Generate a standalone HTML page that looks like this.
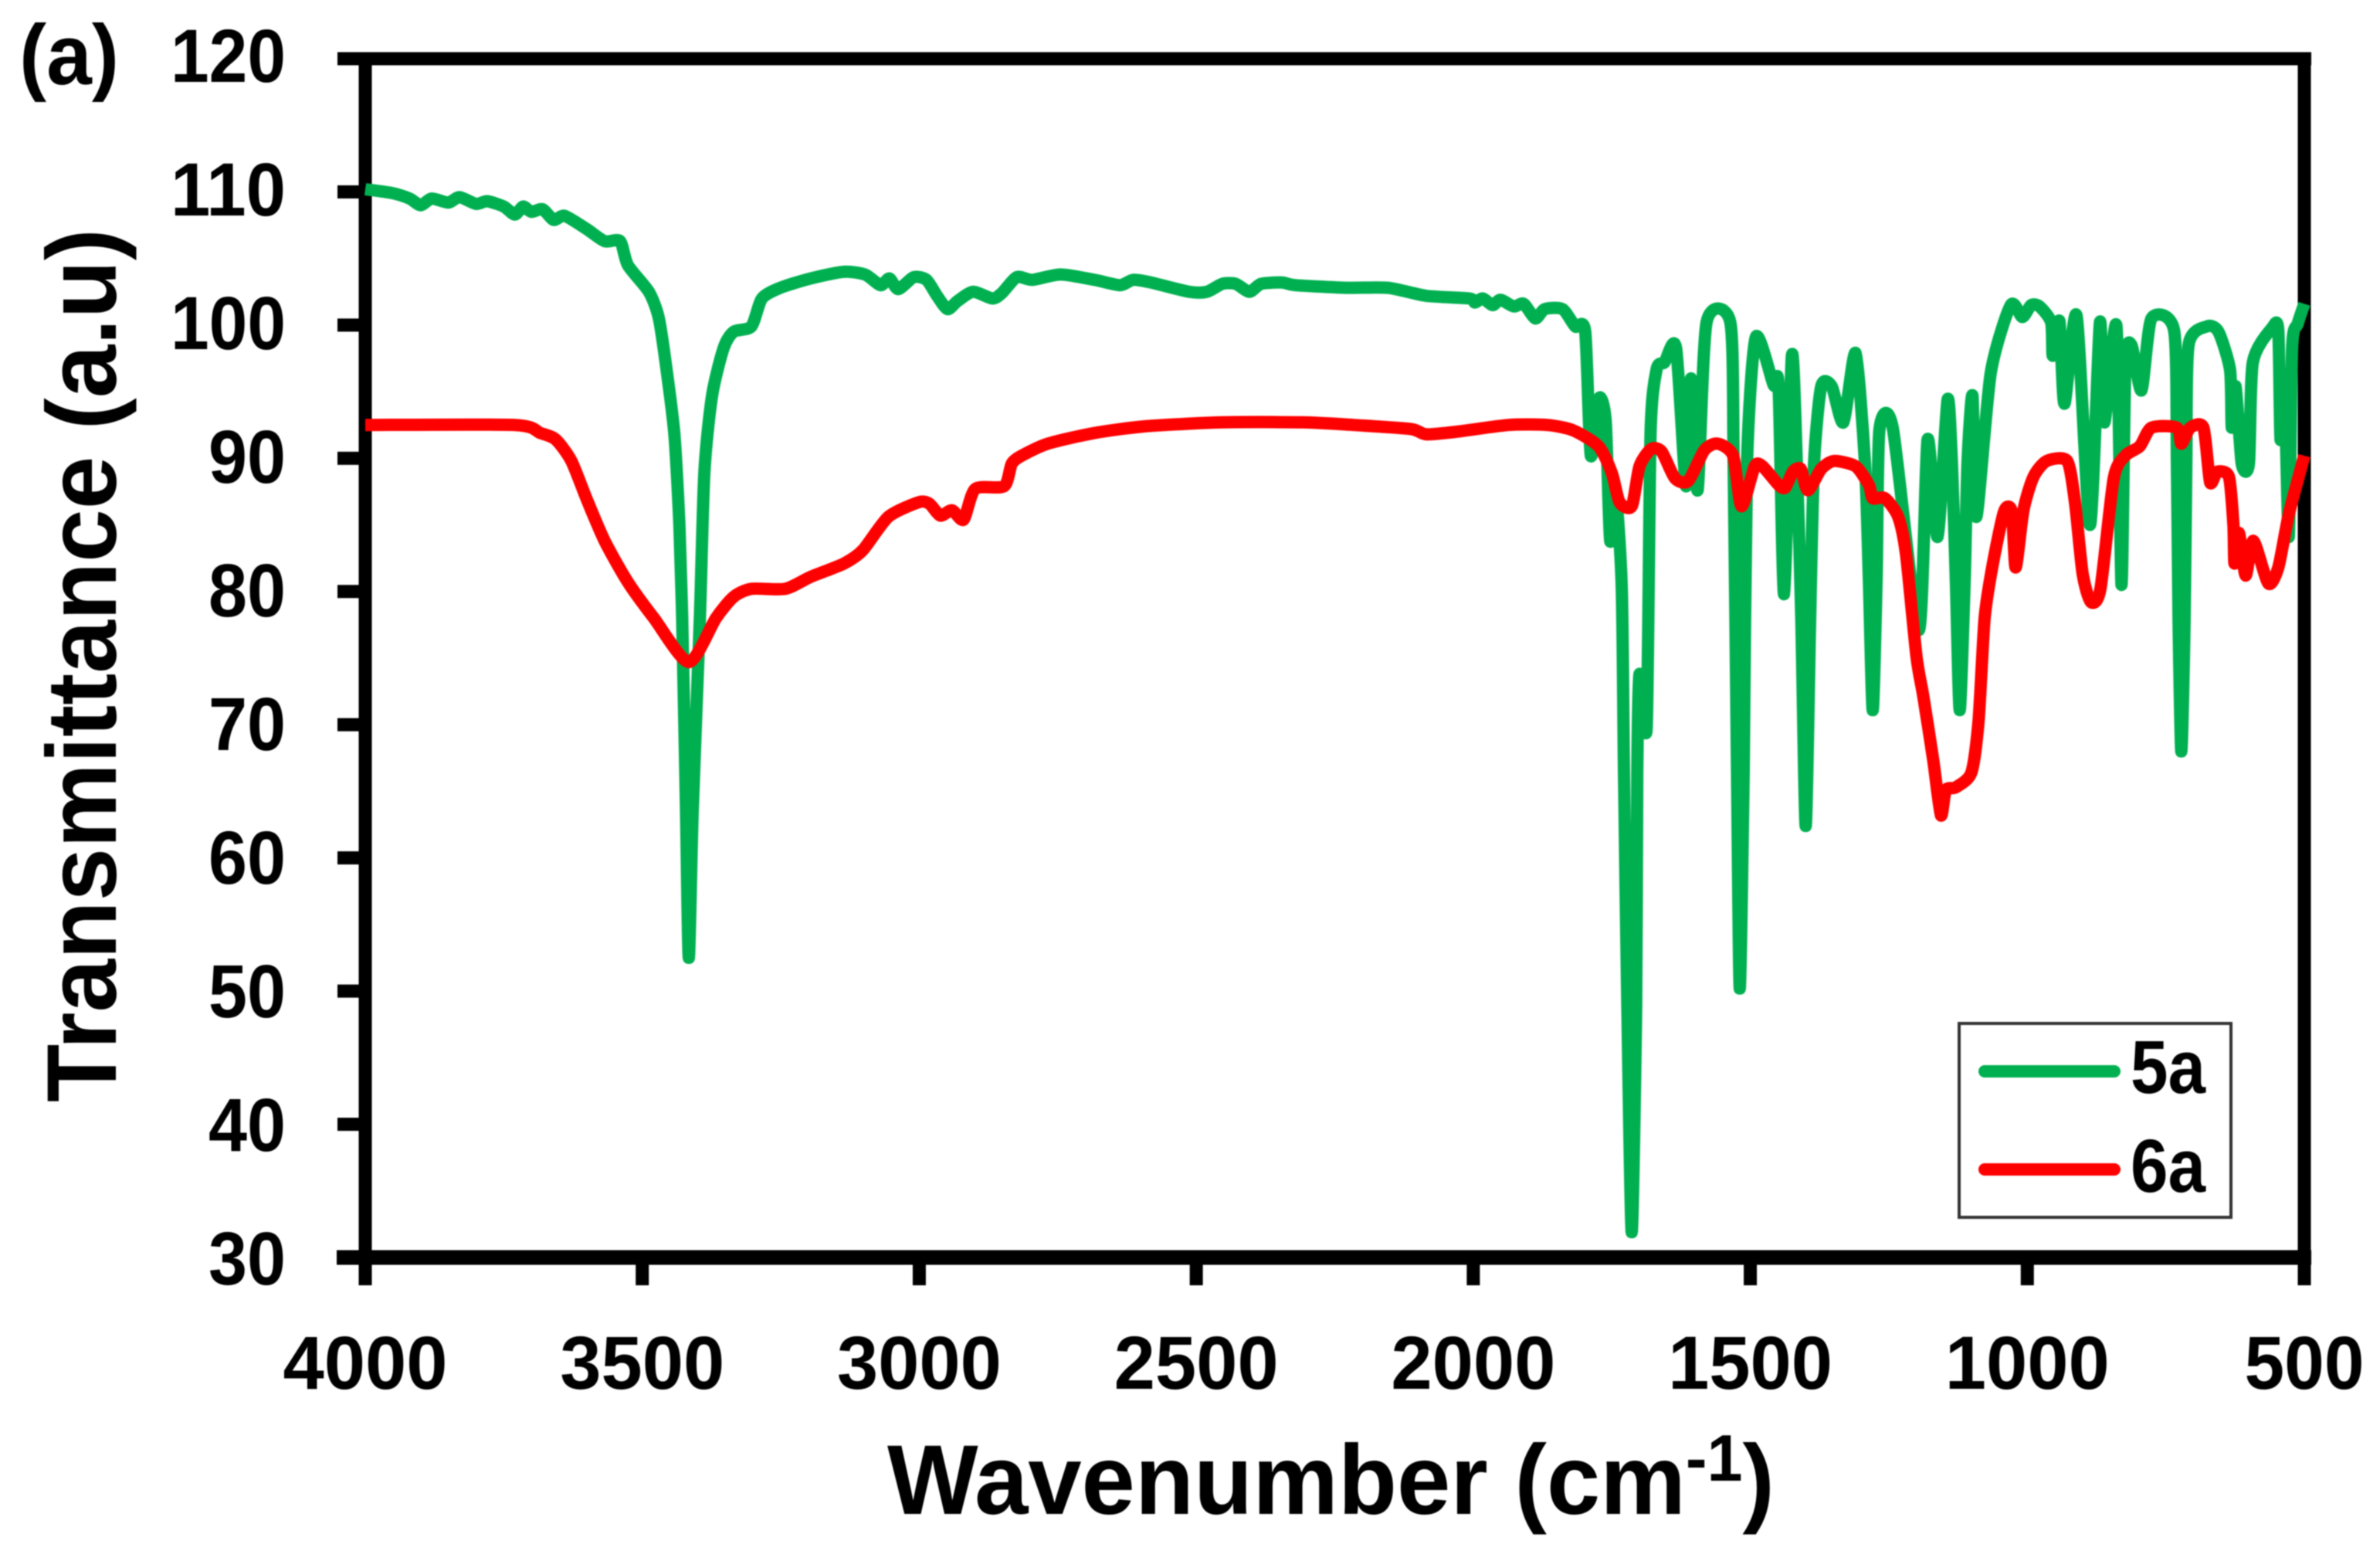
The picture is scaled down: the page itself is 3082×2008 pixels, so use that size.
<!DOCTYPE html>
<html lang="en">
<head>
<meta charset="utf-8">
<title>FTIR spectra of 5a and 6a</title>
<style>
html,body{margin:0;padding:0;background:#fff;}
svg{display:block;filter:blur(0.8px);}
text{font-family:"Liberation Sans",Arial,sans-serif;font-weight:bold;fill:#000;}
</style>
</head>
<body>
<svg id="chart" xmlns="http://www.w3.org/2000/svg" width="3082" height="2008" viewBox="0 0 3082 2008">
  <rect x="0" y="0" width="3082" height="2008" fill="#fff"/>
  <text x="25" y="109" font-size="110" textLength="129" lengthAdjust="spacingAndGlyphs">(a)</text>
  <g id="axes"></g>
  <g id="series"></g>
  <text transform="translate(150,1427) rotate(-90)" x="0" y="0" font-size="128" textLength="1131" lengthAdjust="spacingAndGlyphs">Transmittance (a.u)</text>
  <text x="1149" y="1960" font-size="128" textLength="1149" lengthAdjust="spacingAndGlyphs">Wavenumber (cm<tspan font-size="85" dy="-43">-1</tspan><tspan dy="43">)</tspan></text>
  <g>
    <rect x="2537" y="1325" width="352" height="251" fill="#fff" stroke="#333" stroke-width="4"/>
    <line x1="2570" y1="1387" x2="2738" y2="1387" stroke="#00B050" stroke-width="16" stroke-linecap="round"/>
    <text x="2759" y="1415" font-size="97" textLength="97" lengthAdjust="spacingAndGlyphs">5a</text>
    <line x1="2570" y1="1514" x2="2738" y2="1514" stroke="#FF0000" stroke-width="16" stroke-linecap="round"/>
    <text x="2759" y="1543" font-size="97" textLength="97" lengthAdjust="spacingAndGlyphs">6a</text>
  </g>
</svg>
<script>
const xTickValues = [4000, 3500, 3000, 2500, 2000, 1500, 1000, 500];
const yTickValues = [120, 110, 100, 90, 80, 70, 60, 50, 40, 30];

const wavenumber5a = [4000,3950,3920,3900,3880,3850,3830,3800,3780,3750,3730,3715,3700,3680,3660,3640,3600,3568,3540,3526,3488,3470,3456,3442,3433,3428,3421,3416,3409,3396,3388,3374,3353,3335,3303,3284,3251,3196,3136,3098,3070,3054,3038,3010,2987,2968,2949,2931,2903,2868,2851,2824,2796,2745,2684,2638,2614,2582,2513,2481,2453,2429,2404,2383,2345,2322,2230,2154,2085,2007,1997,1983,1965,1951,1927,1909,1888,1871,1839,1816,1798,1788,1773,1761,1753,1743,1732,1728,1722,1714,1706,1704,1700,1687,1680,1669,1655,1634,1616,1607,1595,1579,1536,1530,1524,1519,1512,1506,1490,1458,1449,1439,1425,1416,1408,1400,1392,1385,1372,1353,1332,1310,1293,1286,1279,1272,1267,1243,1196,1180,1162,1144,1136,1129,1122,1113,1108,1099,1092,1066,1030,1009,993,978,957,954,942,933,911,887,869,861,839,830,823,812,794,776,735,730,727,722,716,713,709,676,655,634,631,624,613,600,593,558,547,543,536,528,522,512,500];
const transmittance5a = [110.2,109.9,109.5,109.0,109.5,109.2,109.6,109.1,109.3,108.9,108.3,108.9,108.5,108.7,107.9,108.2,107.2,106.3,106.3,104.5,102.5,100.5,96.6,91.8,85.0,78.0,63.5,52.5,63.5,78.0,88.9,94.7,98.3,99.5,99.9,102.0,102.8,103.5,104.0,103.8,103.0,103.5,102.7,103.6,103.4,102.2,101.2,101.8,102.5,102.0,102.4,103.6,103.4,103.8,103.4,103.0,103.4,103.2,102.5,102.5,103.1,103.1,102.5,103.1,103.2,103.0,102.8,102.8,102.2,102.0,101.7,102.0,101.5,101.9,101.4,101.6,100.5,101.2,101.2,99.9,99.5,90.2,94.5,92.8,83.8,87.3,80.3,66.4,49.0,31.9,49.0,66.4,73.8,69.8,91.9,96.7,97.2,98.3,87.9,96.0,87.6,100.2,100.2,89.6,66.4,50.2,66.4,89.6,99.1,95.5,95.4,79.8,97.7,89.6,78.0,62.4,78.0,89.6,95.4,95.4,92.7,97.9,89.6,80.9,71.1,80.9,92.1,92.3,77.1,91.4,84.1,94.4,89.6,80.9,71.1,80.9,89.6,94.7,85.6,96.4,101.5,100.6,101.5,101.4,100.2,97.7,100.3,94.1,100.7,85.0,100.2,92.7,99.9,80.5,97.0,98.5,95.1,100.5,99.6,89.6,78.0,68.0,78.0,89.6,98.5,99.9,99.5,96.6,92.3,95.4,89.6,89.6,97.2,99.8,99.6,91.4,95.4,84.1,98.3,100.1,101.6];

const wavenumber6a = [4000,3730,3684,3656,3628,3600,3568,3526,3479,3416,3367,3335,3303,3242,3196,3136,3102,3056,3001,2982,2962,2941,2920,2899,2847,2833,2815,2768,2684,2592,2453,2308,2216,2113,2085,2029,1937,1867,1820,1774,1750,1736,1714,1700,1679,1660,1636,1612,1583,1559,1531,1516,1492,1478,1449,1437,1423,1409,1396,1372,1349,1310,1286,1279,1257,1233,1219,1200,1188,1170,1156,1147,1129,1101,1088,1077,1063,1042,1028,1021,1007,989,965,928,914,900,885,868,844,823,797,776,730,722,706,682,670,657,636,628,626,618,606,592,565,547,528,500];
const transmittance6a = [92.5,92.5,91.9,91.4,89.8,86.9,83.8,80.7,78.0,74.7,78.0,79.6,80.2,80.2,81.1,82.1,83.1,85.6,86.7,86.6,85.7,86.1,85.4,87.7,87.9,89.6,90.2,91.1,91.9,92.4,92.7,92.7,92.5,92.2,91.8,92.0,92.5,92.5,92.1,90.9,88.9,86.7,86.4,89.4,90.7,90.5,88.5,88.3,90.6,91.1,90.2,86.4,89.4,89.4,88.0,87.8,89.0,89.2,87.6,89.2,89.8,89.4,88.0,87.0,87.0,85.6,82.8,75.1,72.2,67.4,63.2,65.1,65.3,66.4,70.3,78.0,81.9,86.0,86.0,81.8,86.1,88.6,89.8,89.8,86.7,81.3,79.2,80.2,88.5,90.2,90.9,92.3,92.3,91.1,92.3,92.3,88.2,89.0,88.6,85.0,82.1,84.4,81.2,83.8,80.6,81.8,85.8,90.2];

const SVG_NS = 'http://www.w3.org/2000/svg';
const xLeft = 473, xRight = 2984, yTop = 76, yBottom = 1628;
function xScale(w) { return xLeft + (4000 - w) / 3500 * (xRight - xLeft); }
function yScale(t) { return yBottom - (t - 30) / 90 * (yBottom - yTop); }

const axes = document.getElementById('axes');

function spine(name, x, y, w, h) {
  const r = document.createElementNS(SVG_NS, 'rect');
  r.setAttribute('x', x);
  r.setAttribute('y', y);
  r.setAttribute('width', w);
  r.setAttribute('height', h);
  r.setAttribute('fill', '#000');
  
  
  axes.appendChild(r);
}
spine('axis-top', xLeft - 36, yTop - 8.5, xRight - xLeft + 45, 17);
spine('axis-bottom', xLeft - 37, yBottom - 9.5, xRight - xLeft + 46, 19);
spine('axis-left', xLeft - 8.5, yTop, 17, yBottom - yTop);
spine('axis-right', xRight - 8.5, yTop - 8, 17, yBottom - yTop + 16);

yTickValues.forEach(function (t) {
  const yy = yScale(t);
  if (t !== 120 && t !== 30) {
    spine('y-tick', xLeft - 36, yy - 8.5, 36, 17);
  }
  const label = document.createElementNS(SVG_NS, 'text');
  label.textContent = String(t);
  label.setAttribute('x', 370);
  label.setAttribute('y', yy + 30 + (120 - t) / 90 * 5);
  label.setAttribute('text-anchor', 'end');
  label.setAttribute('font-size', '97');
  label.setAttribute('textLength', String(t).length === 3 ? '149' : '100');
  label.setAttribute('lengthAdjust', 'spacingAndGlyphs');
  
  
  axes.appendChild(label);
});

xTickValues.forEach(function (w) {
  const xx = xScale(w);
  spine('x-tick', xx - 8.5, yBottom, 17, 36);
  const label = document.createElementNS(SVG_NS, 'text');
  label.textContent = String(w);
  label.setAttribute('x', xx);
  label.setAttribute('y', 1798);
  label.setAttribute('text-anchor', 'middle');
  label.setAttribute('font-size', '97');
  label.setAttribute('textLength', String(w).length === 4 ? '213' : '155');
  label.setAttribute('lengthAdjust', 'spacingAndGlyphs');
  
  
  axes.appendChild(label);
});

const seriesGroup = document.getElementById('series');
function drawSeries(name, xs, ys, color) {
  const pts = xs.map(function (w, i) {
    return [xScale(w), yScale(ys[i])];
  });
  const k = 0.12;
  let d = 'M' + pts[0][0].toFixed(1) + ' ' + pts[0][1].toFixed(1);
  for (let i = 0; i < pts.length - 1; i++) {
    const p0 = pts[Math.max(i - 1, 0)];
    const p1 = pts[i];
    const p2 = pts[i + 1];
    const p3 = pts[Math.min(i + 2, pts.length - 1)];
    const c1x = p1[0] + (p2[0] - p0[0]) * k;
    const c1y = p1[1] + (p2[1] - p0[1]) * k;
    const c2x = p2[0] - (p3[0] - p1[0]) * k;
    const c2y = p2[1] - (p3[1] - p1[1]) * k;
    d += 'C' + c1x.toFixed(1) + ' ' + c1y.toFixed(1) + ' ' + c2x.toFixed(1) + ' ' + c2y.toFixed(1) + ' ' + p2[0].toFixed(1) + ' ' + p2[1].toFixed(1);
  }
  const p = document.createElementNS(SVG_NS, 'path');
  p.setAttribute('d', d);
  p.setAttribute('fill', 'none');
  p.setAttribute('stroke', color);
  p.setAttribute('stroke-width', '16');
  p.setAttribute('stroke-linejoin', 'round');
  p.setAttribute('stroke-linecap', 'butt');
  
  
  seriesGroup.appendChild(p);
}
drawSeries('series-line-5a', wavenumber5a, transmittance5a, '#00B050');
drawSeries('series-line-6a', wavenumber6a, transmittance6a, '#FF0000');
</script>
</body>
</html>
